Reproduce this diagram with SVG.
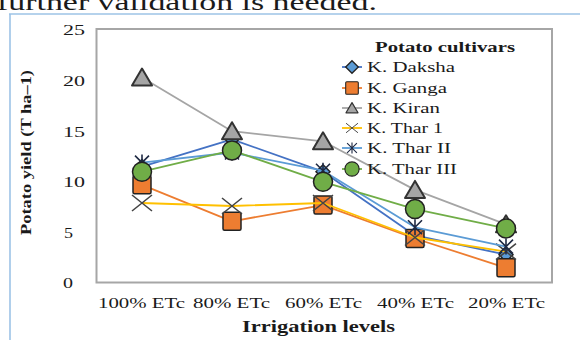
<svg xmlns="http://www.w3.org/2000/svg" xmlns:xlink="http://www.w3.org/1999/xlink" width="580" height="340" viewBox="0 0 580 340">
<style>
text{font-family:"Liberation Serif","Times New Roman",serif;fill:#1a1a1a}
.t{font-size:15px}
.b{font-weight:bold}
.ln{fill:none;stroke-width:1.8;stroke-linejoin:round}
.mk{stroke:#222;stroke-width:1.5}
</style>
<defs>
<path id="dia" d="M0,-7 L7,0 L0,7 L-7,0Z" fill="#5B9BD5" class="mk"/>
<rect id="sq" x="-9" y="-9" width="18" height="18" rx="1.5" fill="#ED7D31" class="mk"/>
<path id="tri" d="M0,-9 L10,8 L-10,8Z" fill="#A5A5A5" stroke="#333" stroke-width="2" stroke-linejoin="round"/>
<path id="xm" d="M-10,-8 L10,8 M-10,8 L10,-8" stroke="#444" stroke-width="1.6" fill="none"/>
<path id="st" d="M-7,-7 L7,7 M-7,7 L7,-7 M0,-8 L0,8" stroke="#1F2A44" stroke-width="1.6" fill="none"/>
<circle id="ci" r="9.5" fill="#70AD47" class="mk"/>
</defs>
<rect width="580" height="340" fill="#fff"/>
<text x="-3" y="10" style="font-size:24px" textLength="380" lengthAdjust="spacingAndGlyphs">further validation is needed.</text>
<path d="M9,14 H580 M10,14 V340" stroke="#9DC3E6" stroke-width="1.6" fill="none"/>
<g id="axes">
<rect x="96.5" y="29" width="455.5" height="253.5" fill="none" stroke="#A6A6A6" stroke-width="2"/>
<g class="t">
<text x="63" y="35" textLength="22" lengthAdjust="spacingAndGlyphs">25</text>
<text x="63" y="86" textLength="22" lengthAdjust="spacingAndGlyphs">20</text>
<text x="63" y="137" textLength="22" lengthAdjust="spacingAndGlyphs">15</text>
<text x="63" y="187" textLength="22" lengthAdjust="spacingAndGlyphs">10</text>
<text x="64" y="238" textLength="9" lengthAdjust="spacingAndGlyphs">5</text>
<text x="63" y="288" textLength="10" lengthAdjust="spacingAndGlyphs">0</text>
<text x="98" y="308" textLength="87" lengthAdjust="spacingAndGlyphs">100% ETc</text>
<text x="193" y="308" textLength="77" lengthAdjust="spacingAndGlyphs">80% ETc</text>
<text x="285" y="308" textLength="77" lengthAdjust="spacingAndGlyphs">60% ETc</text>
<text x="377" y="308" textLength="77" lengthAdjust="spacingAndGlyphs">40% ETc</text>
<text x="468" y="308" textLength="77" lengthAdjust="spacingAndGlyphs">20% ETc</text>
</g>
<text x="242" y="332" class="b" style="font-size:16px" textLength="153" lengthAdjust="spacingAndGlyphs">Irrigation levels</text>
<text transform="translate(31,235) rotate(-90)" class="b" style="font-size:14px" textLength="165" lengthAdjust="spacingAndGlyphs">Potato yield (T ha–1)</text>
</g>
<g id="series">
<g id="daksha">
<polyline class="ln" stroke="#4472C4" points="142,166.6 232,139.3 323,171.7 415,235.4 506,254.7"/>
<use xlink:href="#dia" x="142" y="166.6"/><use xlink:href="#dia" x="232" y="139.3"/><use xlink:href="#dia" x="323" y="171.7"/><use xlink:href="#dia" x="415" y="235.4"/><use xlink:href="#dia" x="506" y="254.7"/>
</g>
<g id="ganga">
<polyline class="ln" stroke="#ED7D31" points="142,184.8 232,221.3 323,205.1 415,238.5 506,267.8"/>
<use xlink:href="#sq" x="142" y="184.8"/><use xlink:href="#sq" x="232" y="221.3"/><use xlink:href="#sq" x="323" y="205.1"/><use xlink:href="#sq" x="415" y="238.5"/><use xlink:href="#sq" x="506" y="267.8"/>
</g>
<g id="kiran">
<polyline class="ln" stroke="#A5A5A5" points="142,77.6 232,131.2 323,141.3 415,189.9 506,224.3"/>
<use xlink:href="#tri" x="142" y="77.6"/><use xlink:href="#tri" x="232" y="131.2"/><use xlink:href="#tri" x="323" y="141.3"/><use xlink:href="#tri" x="415" y="189.9"/><use xlink:href="#tri" x="506" y="224.3"/>
</g>
<g id="thar1">
<polyline class="ln" stroke="#FFC000" points="142,203 232,206 323,203 415,237.5 506,251.6"/>
<use xlink:href="#xm" x="142" y="203"/><use xlink:href="#xm" x="232" y="206"/><use xlink:href="#xm" x="323" y="203"/><use xlink:href="#xm" x="415" y="237.5"/><use xlink:href="#xm" x="506" y="251.6"/>
</g>
<g id="thar2">
<polyline class="ln" stroke="#5B9BD5" points="142,162.6 232,152.5 323,170.7 415,227.3 506,246.6"/>
<use xlink:href="#st" x="142" y="162.6"/><use xlink:href="#st" x="232" y="152.5"/><use xlink:href="#st" x="323" y="170.7"/><use xlink:href="#st" x="415" y="227.3"/><use xlink:href="#st" x="506" y="246.6"/>
</g>
<g id="thar3">
<polyline class="ln" stroke="#70AD47" points="142,171.7 232,150.4 323,181.8 415,209.1 506,228.4"/>
<use xlink:href="#ci" x="142" y="171.7"/><use xlink:href="#ci" x="232" y="150.4"/><use xlink:href="#ci" x="323" y="181.8"/><use xlink:href="#ci" x="415" y="209.1"/><use xlink:href="#ci" x="506" y="228.4"/>
</g>
</g>
<g id="legend">
<text x="375" y="52" class="b" style="font-size:15px" textLength="140" lengthAdjust="spacingAndGlyphs">Potato cultivars</text>
<g class="t">
<path d="M342,67 H362" stroke="#4472C4" stroke-width="1.8"/>
<use xlink:href="#dia" transform="translate(352,67) scale(0.9)"/>
<text x="367" y="72" textLength="88" lengthAdjust="spacingAndGlyphs">K. Daksha</text>
<path d="M342,88 H362" stroke="#ED7D31" stroke-width="1.8"/>
<use xlink:href="#sq" transform="translate(352,88) scale(0.7)"/>
<text x="367" y="93" textLength="80" lengthAdjust="spacingAndGlyphs">K. Ganga</text>
<path d="M342,108 H362" stroke="#A5A5A5" stroke-width="1.8"/>
<use xlink:href="#tri" transform="translate(352,108) scale(0.6)"/>
<text x="367" y="113" textLength="73" lengthAdjust="spacingAndGlyphs">K. Kiran</text>
<path d="M342,128 H362" stroke="#FFC000" stroke-width="1.8"/>
<use xlink:href="#xm" transform="translate(352,128) scale(0.6)"/>
<text x="367" y="133" textLength="76" lengthAdjust="spacingAndGlyphs">K. Thar 1</text>
<path d="M342,148 H362" stroke="#5B9BD5" stroke-width="1.8"/>
<use xlink:href="#st" transform="translate(352,148) scale(0.7)"/>
<text x="367" y="153" textLength="84" lengthAdjust="spacingAndGlyphs">K. Thar II</text>
<path d="M342,169 H362" stroke="#70AD47" stroke-width="1.8"/>
<use xlink:href="#ci" transform="translate(352,169) scale(0.75)"/>
<text x="367" y="174" textLength="90" lengthAdjust="spacingAndGlyphs">K. Thar III</text>
</g>
</g>
</svg>
